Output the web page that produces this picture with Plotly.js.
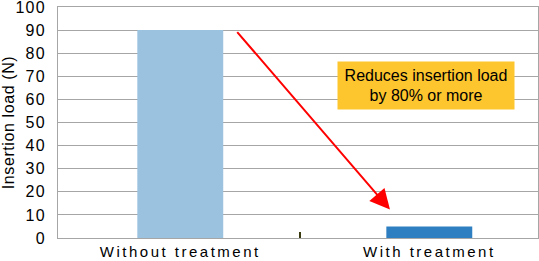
<!DOCTYPE html>
<html>
<head>
<meta charset="utf-8">
<script src="https://cdn.plot.ly/plotly-3.0.1.min.js"></script>
<style>
html,body{margin:0;padding:0;background:#fff;}
#chart{width:539px;height:261px;}
.xtick text{letter-spacing:2.5px;}
.ytick text{letter-spacing:1.2px;}
.ytitle{letter-spacing:0.6px;}
</style>
</head>
<body>
<div id="chart"></div>
<script>
const categories = ["Without treatment", "With treatment"];
const values = [90, 5];
const barColors = ["#9bc2df", "#2e7fc1"];
const yTicks = [0,10,20,30,40,50,60,70,80,90,100];
const noteText = "Reduces insertion load<br>by 80% or more";

const trace = {
  type: "bar",
  x: [0, 1],
  y: values,
  width: 0.345,
  marker: {color: barColors, line: {width: 0}},
  hoverinfo: "none"
};
const tickTrace = {
  type: "scatter", x: [0.48], y: [0], xaxis: "x2", yaxis: "y",
  mode: "markers", marker: {opacity: 0}, hoverinfo: "none", showlegend: false
};

const layout = {
  width: 539, height: 261,
  margin: {l: 58, r: 1, t: 7, b: 23},
  paper_bgcolor: "#fff", plot_bgcolor: "#fff",
  showlegend: false,
  font: {family: "Liberation Sans, Arial, sans-serif", color: "#000"},
  xaxis: {
    range: [-0.491, 1.4365],
    tickvals: [0, 1], ticktext: categories,
    tickfont: {size: 15, color: "#000"},
    showgrid: false, zeroline: false,
    showline: true, linecolor: "#a6a6a6", linewidth: 1, mirror: true,
    ticks: "", ticklen: 0
  },
  xaxis2: {
    overlaying: "x", range: [-0.491, 1.4365], side: "bottom",
    tickvals: [0.48], ticks: "inside", ticklen: 6, tickwidth: 1.5, tickcolor: "#3a3a10",
    showticklabels: false, showgrid: false, zeroline: false, showline: false
  },
  yaxis: {
    range: [0, 100], tickvals: yTicks,
    tickfont: {size: 16, color: "#000"},
    ticklabeloverflow: "allow",
    showgrid: true, gridcolor: "#a6a6a6", gridwidth: 1,
    zeroline: false,
    showline: true, linecolor: "#a6a6a6", linewidth: 1, mirror: true,
    ticks: "", ticklabelstandoff: 8,
    title: {text: "Insertion load (N)", font: {size: 16, color: "#000"}, standoff: 2}
  },
  annotations: [
    {
      x: 0.842, y: 12.3, xref: "x", yref: "y",
      ax: -154, ay: -179, axref: "pixel", ayref: "pixel",
      showarrow: true, arrowhead: 2, arrowsize: 2, arrowwidth: 2, arrowcolor: "#ff0000",
      text: ""
    },
    {
      x: 0.987, y: 66.1, xref: "x", yref: "y",
      text: noteText, showarrow: false,
      font: {size: 16, color: "#000"},
      bgcolor: "#fdc52e", borderpad: 3,
      width: 170, height: 41
    }
  ]
};

Plotly.newPlot("chart", [trace, tickTrace], layout, {staticPlot: true, displayModeBar: false});
</script>
</body>
</html>
